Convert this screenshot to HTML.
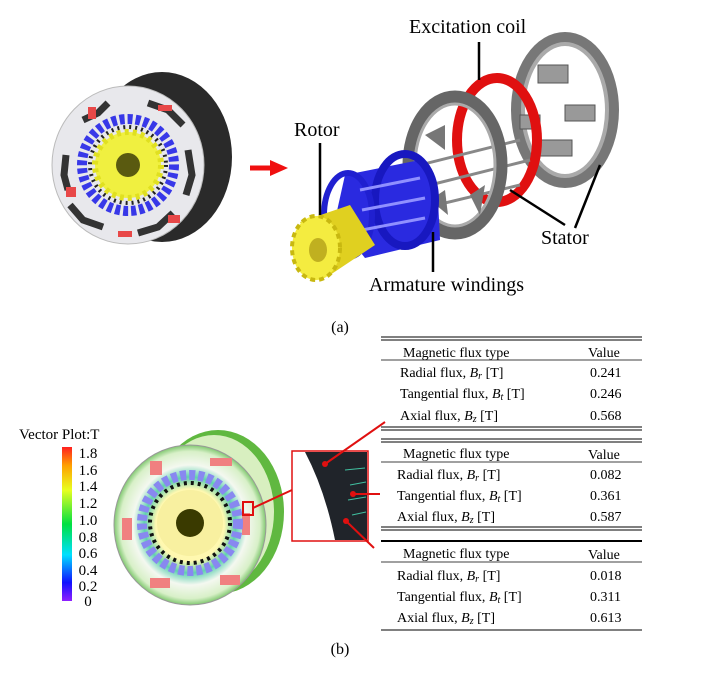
<!DOCTYPE html>
<html><head><meta charset="utf-8"><style>
body{margin:0;background:#fff;}
svg{display:block;font-family:"Liberation Serif",serif;}
</style></head><body>
<svg width="712" height="674" viewBox="0 0 712 674" xmlns="http://www.w3.org/2000/svg">
<defs>
<linearGradient id="cb" x1="0" y1="1" x2="0" y2="0">
<stop offset="0" stop-color="#9020ff"/><stop offset="0.12" stop-color="#1010ff"/><stop offset="0.3" stop-color="#00e0ff"/><stop offset="0.5" stop-color="#00e040"/><stop offset="0.72" stop-color="#e8ff20"/><stop offset="0.88" stop-color="#ffa000"/><stop offset="1" stop-color="#ff2020"/>
</linearGradient>
<radialGradient id="flux" cx="0.5" cy="0.5" r="0.5">
<stop offset="0.45" stop-color="#fff8b0"/><stop offset="0.6" stop-color="#60d0b0"/><stop offset="0.75" stop-color="#f4f8f0"/><stop offset="0.92" stop-color="#d8f0c8"/><stop offset="1" stop-color="#80c870"/>
</radialGradient>
</defs>
<!-- top-left motor -->
<ellipse cx="162" cy="157" rx="70" ry="85" fill="#2a2a2a"/>
<ellipse cx="128" cy="165" rx="76" ry="79" fill="#e8e8ec" stroke="#bbb"/>
<g transform="translate(128,165)">
<g fill="none" stroke="#333" stroke-width="7">
<path d="M-20,-62 L-30,-52 L-45,-45"/><path d="M20,-62 L40,-55 L55,-40"/><path d="M60,-15 L64,10 L58,30"/><path d="M45,48 L30,62 L10,68"/><path d="M-25,62 L-45,55 L-58,40"/><path d="M-62,-10 L-64,10 L-60,25"/>
</g>
<g fill="#e84848"><rect x="-40" y="-58" width="8" height="12"/><rect x="30" y="-60" width="14" height="6"/><rect x="-62" y="22" width="10" height="10"/><rect x="40" y="50" width="12" height="8"/><rect x="-10" y="66" width="14" height="6"/></g>
<circle r="46" fill="none" stroke="#3838e8" stroke-width="10" stroke-dasharray="5 3"/>
<circle r="38" fill="none" stroke="#222" stroke-width="4" stroke-dasharray="2 4"/>
<circle r="33" fill="#f0f040" stroke="#e0e020" stroke-width="6" stroke-dasharray="4 4"/>
<circle r="12" fill="#5a5a10"/>
</g>
<!-- red arrow -->
<path d="M250,168 L272,168" stroke="#f01010" stroke-width="5"/><path d="M270,160 L288,168 L270,176Z" fill="#f01010"/>
<!-- exploded view -->
<g>
<ellipse cx="565" cy="110" rx="48" ry="72" fill="none" stroke="#777" stroke-width="12"/>
<ellipse cx="565" cy="110" rx="42" ry="66" fill="none" stroke="#aaa" stroke-width="4"/>
<g fill="#999" stroke="#555"><rect x="538" y="65" width="30" height="18"/><rect x="565" y="105" width="30" height="16"/><rect x="540" y="140" width="32" height="16"/><rect x="520" y="115" width="20" height="14"/></g>
<ellipse cx="497" cy="140" rx="40" ry="62" fill="none" stroke="#e01010" stroke-width="10"/>
<g stroke="#888" stroke-width="3"><line x1="380" y1="175" x2="520" y2="140"/><line x1="390" y1="195" x2="530" y2="160"/><line x1="395" y1="215" x2="520" y2="185"/></g>
<ellipse cx="455" cy="165" rx="46" ry="68" fill="none" stroke="#666" stroke-width="13"/>
<ellipse cx="455" cy="165" rx="40" ry="61" fill="none" stroke="#aaa" stroke-width="3"/>
<g fill="#777"><path d="M425,135 L445,125 L445,150Z"/><path d="M470,195 L485,185 L480,215Z"/><path d="M430,200 L445,190 L448,215Z"/></g>
<path d="M345,175 L420,160 L438,200 L440,240 L365,258 L335,220Z" fill="#2a2ae0"/>
<ellipse cx="405" cy="200" rx="30" ry="46" fill="none" stroke="#1818c0" stroke-width="8"/>
<ellipse cx="348" cy="215" rx="24" ry="42" fill="none" stroke="#2020d0" stroke-width="6"/>
<g stroke="#9090ff" stroke-width="3"><line x1="360" y1="190" x2="420" y2="178"/><line x1="362" y1="210" x2="425" y2="198"/><line x1="362" y1="230" x2="425" y2="218"/></g>
<path d="M300,222 L350,205 L375,245 L330,275Z" fill="#e0d020"/>
<ellipse cx="316" cy="248" rx="24" ry="32" fill="#f4ec40" stroke="#c8b810" stroke-width="4" stroke-dasharray="5 4"/>
<ellipse cx="318" cy="250" rx="9" ry="12" fill="#c0b020"/>
</g>
<!-- leader lines -->
<g stroke="#000" stroke-width="2.5" fill="none">
<line x1="479" y1="42" x2="479" y2="80"/>
<line x1="320" y1="143" x2="320" y2="215"/>
<line x1="433" y1="232" x2="433" y2="272"/>
<path d="M510,190 L565,225"/><path d="M575,228 L600,165"/>
</g>
<g font-size="20" fill="#000">
<text x="409" y="33">Excitation coil</text>
<text x="294" y="136">Rotor</text>
<text x="541" y="244">Stator</text>
<text x="369" y="291">Armature windings</text>
</g>
<text x="340" y="332" font-size="16" text-anchor="middle">(a)</text>
<text x="340" y="654" font-size="16" text-anchor="middle">(b)</text>
<!-- colorbar -->
<text x="19" y="439" font-size="15">Vector Plot:T</text>
<rect x="62" y="447" width="10" height="154" fill="url(#cb)"/>
<g font-size="15" text-anchor="middle">
<text x="88" y="458">1.8</text><text x="88" y="475">1.6</text><text x="88" y="491">1.4</text><text x="88" y="508">1.2</text><text x="88" y="525">1.0</text><text x="88" y="542">0.8</text><text x="88" y="558">0.6</text><text x="88" y="575">0.4</text><text x="88" y="591">0.2</text><text x="88" y="606">0</text>
</g>
<!-- bottom motor -->
<ellipse cx="218" cy="512" rx="66" ry="82" fill="#60b840"/>
<ellipse cx="214" cy="512" rx="60" ry="77" fill="#d8efc0"/>
<ellipse cx="190" cy="525" rx="76" ry="80" fill="url(#flux)" stroke="#999"/>
<g transform="translate(190,523)">
<g fill="#f08080"><rect x="-40" y="-62" width="12" height="14"/><rect x="20" y="-65" width="22" height="8"/><rect x="52" y="-10" width="8" height="22"/><rect x="-68" y="-5" width="10" height="22"/><rect x="30" y="52" width="20" height="10"/><rect x="-40" y="55" width="20" height="10"/></g>
<circle r="48" fill="none" stroke="#8888f0" stroke-width="10" stroke-dasharray="6 3"/>
<circle r="40" fill="none" stroke="#111" stroke-width="4" stroke-dasharray="3 4"/>
<circle r="33" fill="#f8f0a0"/>
<circle r="14" fill="#3a3a00"/>
</g>
<rect x="243" y="502" width="10" height="13" fill="none" stroke="#e01010" stroke-width="2"/>
<line x1="253" y1="508" x2="292" y2="490" stroke="#e01010" stroke-width="2"/>
<!-- inset -->
<rect x="292" y="451" width="76" height="90" fill="#fff" stroke="#e01010" stroke-width="1.5"/>
<path d="M305,452 Q325,490 335,540 L367,540 L367,452Z" fill="#20242a"/>
<g stroke="#40c0a0" stroke-width="1"><line x1="345" y1="470" x2="365" y2="468"/><line x1="350" y1="485" x2="366" y2="482"/><line x1="348" y1="500" x2="366" y2="497"/><line x1="352" y1="515" x2="366" y2="512"/></g>
<g stroke="#e01010" stroke-width="2"><line x1="325" y1="464" x2="385" y2="422"/><line x1="353" y1="494" x2="380" y2="494"/><line x1="346" y1="521" x2="374" y2="548"/></g>
<g fill="#e01010"><circle cx="325" cy="464" r="3"/><circle cx="353" cy="494" r="3"/><circle cx="346" cy="521" r="3"/></g>
<!-- tables -->
<g stroke="#000" fill="none">
<line x1="381" y1="337" x2="642" y2="337"/><line x1="381" y1="340" x2="642" y2="340"/><line x1="381" y1="360" x2="642" y2="360" stroke-width="0.8"/><line x1="381" y1="427" x2="642" y2="427"/><line x1="381" y1="430" x2="642" y2="430"/>
<line x1="381" y1="439" x2="642" y2="439"/><line x1="381" y1="442" x2="642" y2="442"/><line x1="381" y1="462" x2="642" y2="462" stroke-width="0.8"/><line x1="381" y1="527" x2="642" y2="527"/><line x1="381" y1="530" x2="642" y2="530"/>
<line x1="381" y1="541" x2="642" y2="541" stroke-width="2"/><line x1="381" y1="562" x2="642" y2="562" stroke-width="0.8"/><line x1="381" y1="630" x2="642" y2="630"/>
</g>
<g font-size="14" fill="#000">
<text x="403" y="357">Magnetic flux type</text><text x="588" y="357">Value</text>
<text x="400" y="377">Radial flux, <tspan font-style="italic">B<tspan font-size="10" dy="2">r</tspan></tspan><tspan dy="-2"> [T]</tspan></text><text x="590" y="377">0.241</text>
<text x="400" y="398">Tangential flux, <tspan font-style="italic">B<tspan font-size="10" dy="2">t</tspan></tspan><tspan dy="-2"> [T]</tspan></text><text x="590" y="398">0.246</text>
<text x="400" y="420">Axial flux, <tspan font-style="italic">B<tspan font-size="10" dy="2">z</tspan></tspan><tspan dy="-2"> [T]</tspan></text><text x="590" y="420">0.568</text>

<text x="403" y="458">Magnetic flux type</text><text x="588" y="459">Value</text>
<text x="397" y="479">Radial flux, <tspan font-style="italic">B<tspan font-size="10" dy="2">r</tspan></tspan><tspan dy="-2"> [T]</tspan></text><text x="590" y="479">0.082</text>
<text x="397" y="500">Tangential flux, <tspan font-style="italic">B<tspan font-size="10" dy="2">t</tspan></tspan><tspan dy="-2"> [T]</tspan></text><text x="590" y="500">0.361</text>
<text x="397" y="521">Axial flux, <tspan font-style="italic">B<tspan font-size="10" dy="2">z</tspan></tspan><tspan dy="-2"> [T]</tspan></text><text x="590" y="521">0.587</text>

<text x="403" y="558">Magnetic flux type</text><text x="588" y="559">Value</text>
<text x="397" y="580">Radial flux, <tspan font-style="italic">B<tspan font-size="10" dy="2">r</tspan></tspan><tspan dy="-2"> [T]</tspan></text><text x="590" y="580">0.018</text>
<text x="397" y="601">Tangential flux, <tspan font-style="italic">B<tspan font-size="10" dy="2">t</tspan></tspan><tspan dy="-2"> [T]</tspan></text><text x="590" y="601">0.311</text>
<text x="397" y="622">Axial flux, <tspan font-style="italic">B<tspan font-size="10" dy="2">z</tspan></tspan><tspan dy="-2"> [T]</tspan></text><text x="590" y="622">0.613</text>
</g>
</svg>
</body></html>
